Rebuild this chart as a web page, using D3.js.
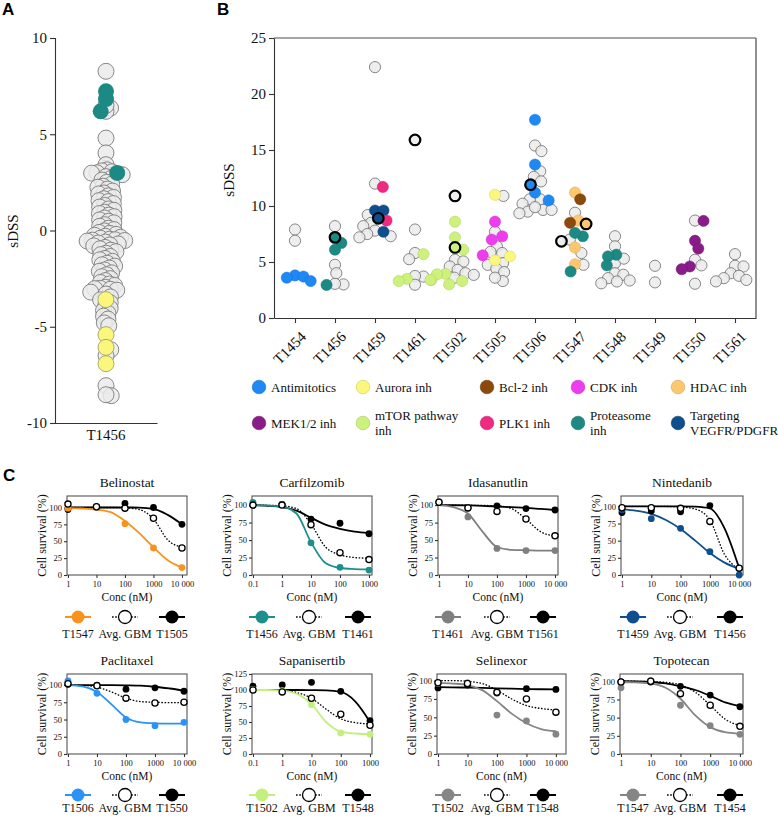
<!DOCTYPE html>
<html><head><meta charset="utf-8">
<script src="https://cdn.jsdelivr.net/npm/d3@7"></script>
<style>
body{margin:0;background:#fff}
</style>
</head><body><svg id="c" width="778" height="819" xmlns="http://www.w3.org/2000/svg"></svg>
<script>
// ---------------- Panel A data (sDSS, sample T1456) ----------------
const panelASample = "T1456";
const panelAGrey = [8.27, 6.36, 4.8, 4.03, 3.42, 6.19, 6.5, -8.06, -8.58, -8.53,
  3.15, 3.1, 3.05, 3.0, 2.98, 2.9, 2.8, 2.7, 2.62, 2.5, 2.4, 2.3, 2.25, 2.15, 2.05, 1.95, 1.9, 1.8, 1.72,
  1.65, 1.55, 1.5, 1.4, 1.3, 1.22, 1.12, 1.05, 0.95, 0.88, 0.8, 0.72, 0.65, 0.55, 0.48, 0.4, 0.3,
  0.22, 0.12, 0.05, -0.02, -0.1, -0.15, -0.2, -0.25, -0.3, -0.35, -0.4, -0.45, -0.48, -0.5, -0.52,
  -0.55, -0.6, -0.65, -0.7, -0.75, -0.8, -0.88, -0.95, -1.02, -1.1, -1.18, -1.25, -1.35, -1.45,
  -1.52, -1.6, -1.7, -1.78, -1.85, -1.95, -2.05, -2.12, -2.2, -2.3, -2.4, -2.5, -2.6, -2.7, -2.78,
  -2.85, -2.95, -3.0, -3.02, -3.05, -3.1, -3.2, -3.3, -3.45, -3.6, -3.75, -3.9, -4.05, -4.15, -4.3,
  -4.45, -4.6, -4.8, -4.95, -6.19, -6.5];
const panelAProteasome = [6.83, 7.23, 6.19, 2.99];
const panelAAurora = [-3.59, -5.41, -6.07, -6.92];
const panelATicks = [-10, -5, 0, 5, 10];

// ---------------- Panel B data ----------------
const panelBSamples = ["T1454","T1456","T1459","T1461","T1502","T1505","T1506","T1547","T1548","T1549","T1550","T1561"];
const panelBTicks = [0, 5, 10, 15, 20, 25];
const classKeys = ["anti","aurora","bcl2","cdk","hdac","mek","mtor","plk1","prot","vegfr"];
const classNames = ["Antimitotics","Aurora inh","Bcl-2 inh","CDK inh","HDAC inh","MEK1/2 inh","mTOR pathway|inh","PLK1 inh","Proteasome|inh","Targeting|VEGFR/PDGFR"];
const classColors = ["#1e88f5","#fbf77c","#8b4a0c","#ef3cef","#fdc76e","#8a1c8a","#cdf27c","#ef2a80","#1d8985","#0f4e8c"];
// [sample, sDSS, class ("none" = other drugs), highlighted]
const panelBPoints = [
  ["T1454",7.9,"none",0],["T1454",6.9,"none",0],["T1454",3.8,"anti",0],["T1454",3.7,"anti",0],["T1454",3.3,"anti",0],["T1454",3.6,"anti",0],
  ["T1456",8.2,"none",0],["T1456",7.2,"prot",1],["T1456",6.7,"prot",0],["T1456",6.1,"prot",0],["T1456",4.75,"none",0],["T1456",4.0,"none",0],["T1456",3.0,"none",0],["T1456",2.95,"prot",0],["T1456",3.05,"none",0],
  ["T1459",22.4,"none",0],["T1459",12.0,"none",0],["T1459",11.7,"plk1",0],["T1459",9.6,"vegfr",0],["T1459",9.6,"vegfr",0],["T1459",8.9,"vegfr",1],["T1459",8.7,"plk1",0],["T1459",7.7,"vegfr",0],["T1459",9.2,"none",0],["T1459",8.5,"none",0],["T1459",8.2,"none",0],["T1459",7.8,"none",0],["T1459",7.5,"none",0],["T1459",7.3,"none",0],["T1459",7.2,"none",0],
  ["T1461",15.9,"none",1],["T1461",7.9,"none",0],["T1461",5.7,"mtor",0],["T1461",5.8,"none",0],["T1461",5.25,"none",0],["T1461",3.4,"mtor",0],["T1461",3.5,"mtor",0],["T1461",3.7,"none",0],["T1461",3.75,"none",0],["T1461",2.97,"none",0],["T1461",3.3,"mtor",0],
  ["T1502",10.9,"none",1],["T1502",8.6,"mtor",0],["T1502",6.3,"mtor",1],["T1502",7.2,"mtor",0],["T1502",6.1,"mtor",0],["T1502",3.95,"mtor",0],["T1502",3.9,"mtor",0],["T1502",3.4,"mtor",0],["T1502",3.3,"mtor",0],["T1502",3.0,"mtor",0],["T1502",5.2,"none",0],["T1502",5.05,"none",0],["T1502",4.6,"none",0],["T1502",4.3,"none",0],["T1502",4.0,"none",0],["T1502",3.85,"none",0],["T1502",3.6,"none",0],
  ["T1505",11.0,"aurora",0],["T1505",10.9,"none",0],["T1505",8.6,"cdk",0],["T1505",7.7,"none",0],["T1505",7.3,"cdk",0],["T1505",7.0,"cdk",0],["T1505",6.4,"none",0],["T1505",5.8,"none",0],["T1505",5.9,"none",0],["T1505",5.5,"aurora",0],["T1505",5.15,"aurora",0],["T1505",4.75,"none",0],["T1505",4.9,"none",0],["T1505",4.4,"none",0],["T1505",4.1,"none",0],["T1505",3.3,"none",0],["T1505",3.6,"none",0],["T1505",5.6,"cdk",0],
  ["T1506",17.7,"anti",0],["T1506",15.4,"none",0],["T1506",14.9,"none",0],["T1506",13.7,"anti",0],["T1506",13.1,"none",0],["T1506",12.6,"none",0],["T1506",12.2,"none",0],["T1506",11.9,"anti",1],["T1506",11.2,"anti",0],["T1506",10.5,"anti",0],["T1506",10.6,"none",0],["T1506",10.6,"none",0],["T1506",10.2,"none",0],["T1506",9.65,"none",0],["T1506",9.5,"none",0],["T1506",9.35,"none",0],["T1506",9.65,"none",0],["T1506",9.9,"none",0],
  ["T1547",11.2,"hdac",0],["T1547",10.6,"bcl2",0],["T1547",9.4,"none",0],["T1547",8.7,"hdac",0],["T1547",8.5,"bcl2",0],["T1547",8.4,"hdac",1],["T1547",7.3,"prot",0],["T1547",6.85,"none",1],["T1547",6.3,"hdac",0],["T1547",5.8,"none",0],["T1547",4.75,"none",0],["T1547",4.8,"hdac",0],["T1547",4.15,"prot",0],["T1547",7.0,"none",0],["T1547",7.6,"prot",0],
  ["T1548",7.3,"none",0],["T1548",6.4,"none",0],["T1548",5.65,"prot",0],["T1548",5.5,"prot",0],["T1548",4.7,"prot",0],["T1548",4.9,"none",0],["T1548",4.0,"none",0],["T1548",3.86,"none",0],["T1548",3.56,"none",0],["T1548",3.35,"none",0],["T1548",3.26,"none",0],["T1548",3.1,"none",0],["T1548",5.3,"none",0],
  ["T1549",4.66,"none",0],["T1549",3.18,"none",0],
  ["T1550",8.7,"none",0],["T1550",8.67,"mek",0],["T1550",6.9,"mek",0],["T1550",6.2,"mek",0],["T1550",5.2,"none",0],["T1550",4.7,"none",0],["T1550",4.6,"mek",0],["T1550",4.36,"mek",0],["T1550",3.06,"none",0],
  ["T1561",5.7,"none",0],["T1561",4.66,"none",0],["T1561",4.6,"none",0],["T1561",4.0,"none",0],["T1561",3.77,"none",0],["T1561",3.56,"none",0],["T1561",3.4,"none",0],["T1561",3.27,"none",0]
];

// ---------------- Panel C data ----------------
const cTitles = ["Belinostat","Carfilzomib","Idasanutlin","Nintedanib","Paclitaxel","Sapanisertib","Selinexor","Topotecan"];
const cSampleLabels = ["T1547","T1456","T1461","T1459","T1506","T1502","T1502","T1547"];
const cRefLabels = ["T1505","T1461","T1561","T1456","T1550","T1548","T1548","T1454"];
const cSampleColors = ["#f7931e","#1e8f8c","#7f7f7f","#0f4e8f","#2a93f5","#c4ef7e","#858585","#858585"];
const cConc = [[1,10,100,1000,10000],[0.1,1,10,100,1000],[1,10,100,1000,10000],[1,10,100,1000,10000],
               [1,10,100,1000,10000],[0.1,1,10,100,1000],[1,10,100,1000,10000],[1,10,100,1000,10000]];
const cYTicks = [[0,25,50,75,100],[0,25,50,75,100],[0,25,50,75,100],[0,25,50,75,100],
                 [0,25,50,75,100],[0,25,50,75,100,125],[0,25,50,75,100],[0,25,50,75,100]];
const cYMax = [117, 113, 113, 115, 116, 125, 109, 110];
// measured cell survival (%) at each concentration: [sample, avg GBM, reference]
const cPoints = [
  [[99,101,76,40,11],[105,101,99,84,40],[97,101,106,100,75]],
  [[104,101,46,11,7],[100,100,72,32,22],[100,101,80,74,59]],
  [[105,83,38,35,35],[104,96,91,80,56],[104,96,99,95,93]],
  [[95,82,68,34,0],[98,98,97,78,10],[91,93,92,101,10]],
  [[106,88,50,41,46],[102,99,81,74,75],[101,100,94,96,91]],
  [[101,99,77,33,31],[100,97,87,62,45],[106,108,112,98,52]],
  [[96,97,53,45,27],[97,96,84,75,57],[90,94,83,89,88]],
  [[91,101,67,39,27],[99,100,83,67,38],[99,99,93,81,65]]
];
// fitted curves read at half-decade steps from the lowest concentration
const cCurves = [
  [[99,98.5,97,93,80,62,41,22,11],[100,100,100,100,99.5,97,83,52,41],[100,100,100,100,100,99.8,98,89,75]],
  [[100,99.5,98,88,47,17,10,8.5,8],[100,99.7,99,95,73,40,29,25,24],[100,99,97,92,82,72,66,62,60]],
  [[100,97,88,62,40,36,35.5,35,35],[100,100,99.8,99.5,99,95,80,62,56],[100,99.8,99.5,99,98,97,96,94.5,93]],
  [[96,93.5,89,80,67,50,32,18,9],[100,100,100,99.8,99,96,80,30,8],[100,100,100,100,100,99.5,97,68,10]],
  [[100,98,90,72,53,46,44.5,44,44],[100,99.5,97,90,81,76,75,74.5,74.5],[100,100,100,99.8,99.5,99,97.5,95,92]],
  [[100,100,99,94,78,50,35,32,31],[100,99.8,99,96,87,70,55,49,47],[100,100,100,100,99.8,99.5,97,82,50]],
  [[97,96,94,87,72,55,42,34,31],[100,100,99,96,87,75,66,62,60],[91,90.8,90.5,90,89.5,89,88.5,88.2,88]],
  [[99,98.5,97,91,76,53,37,30,28],[100,100,99.5,98.5,95,85,67,48,39],[100,99.8,99,97,93,88,80,71,66]]
];

// ================= drawing =================
const SERIF = '"Liberation Serif", "Times New Roman", Times, "DejaVu Serif", serif';
const SANS = '"Liberation Sans", Arial, Helvetica, sans-serif';
const svg = d3.select("#c");
const greyFill = "#ebebeb", greyStroke = "#7a7a7a";

function swarm(items, d) {
  const sorted = items.slice().sort((a, b) => a.py - b.py);
  const placed = [];
  for (const it of sorted) {
    const cands = [0];
    for (const p of placed) {
      const dy = Math.abs(p.py - it.py);
      if (dy < d) { const dx = Math.sqrt(d * d - dy * dy); cands.push(p.dx + dx + 0.01, p.dx - dx - 0.01); }
    }
    cands.sort((a, b) => Math.abs(a) - Math.abs(b));
    for (const c of cands) {
      if (placed.every(p => (p.dx - c) ** 2 + (p.py - it.py) ** 2 >= d * d - 0.05)) { it.dx = c; break; }
    }
    placed.push(it);
  }
}
function styleAxis(g, fs) {
  g.attr("font-family", null);
  g.selectAll("path,line").attr("stroke", "#333").attr("stroke-width", 1.1);
  g.selectAll("text").attr("font-size", fs).attr("fill", "#111");
}
function letter(t, x, y) {
  svg.append("text").attr("class", "lett").attr("x", x).attr("y", y).text(t)
    .style("font-family", SANS).style("font-weight", "bold").style("font-size", "17px");
}

// ---------- Panel A ----------
letter("A", 2, 15);
const ay = d3.scaleLinear().domain([-10, 10]).range([423, 38]);
const ax = d3.scaleBand().domain([panelASample]).range([55, 157]);
const gAy = svg.append("g").attr("transform", "translate(55,0)")
  .call(d3.axisLeft(ay).tickValues(panelATicks).tickSize(5).tickPadding(3).tickFormat(d => String(d)));
styleAxis(gAy, 15);
const gAx = svg.append("g").attr("transform", "translate(0,423)")
  .call(d3.axisBottom(ax).tickSize(0).tickPadding(6));
styleAxis(gAx, 15);
svg.append("text").attr("transform", "translate(18,231) rotate(-90)").attr("text-anchor", "middle")
  .attr("font-size", 15).text("sDSS");
const aItems = [];
panelAGrey.forEach(v => aItems.push({v, c: "none"}));
panelAProteasome.forEach(v => aItems.push({v, c: "prot"}));
panelAAurora.forEach(v => aItems.push({v, c: "aurora"}));
aItems.forEach(d => d.py = ay(d.v));
swarm(aItems, 5.3);
const aOrder = aItems.slice().sort((a, b) => (a.c === "none" ? 0 : 1) - (b.c === "none" ? 0 : 1));
svg.append("g").selectAll("circle").data(aOrder).join("circle")
  .attr("cx", d => ax(panelASample) + ax.bandwidth() / 2 + d.dx)
  .attr("cy", d => d.py).attr("r", 8)
  .attr("fill", d => d.c === "none" ? greyFill : classColors[classKeys.indexOf(d.c)])
  .attr("fill-opacity", d => d.c === "none" ? 0.85 : 1)
  .attr("stroke", d => d.c === "none" ? greyStroke : (d.c === "aurora" ? "#a0a070" : "none"))
  .attr("stroke-width", 0.9);

// ---------- Panel B ----------
letter("B", 217, 15);
const bx = d3.scalePoint().domain(panelBSamples).range([274, 756]).padding(0.525);
const by = d3.scaleLinear().domain([0, 25]).range([318, 38]);
svg.append("line").attr("x1", 274).attr("x2", 756).attr("y1", 38).attr("y2", 38).attr("stroke", "#888").attr("stroke-width", 1.3);
svg.append("line").attr("x1", 756).attr("x2", 756).attr("y1", 38).attr("y2", 318).attr("stroke", "#555").attr("stroke-width", 1.3);
const gBy = svg.append("g").attr("transform", "translate(274,0)")
  .call(d3.axisLeft(by).tickValues(panelBTicks).tickSize(5).tickPadding(3).tickSizeOuter(0));
styleAxis(gBy, 15);
const gBx = svg.append("g").attr("transform", "translate(0,318)")
  .call(d3.axisBottom(bx).tickSize(5).tickSizeOuter(0));
styleAxis(gBx, 15);
gBx.selectAll("text").attr("text-anchor", "end").attr("dy", 0)
  .attr("transform", "translate(6,14) rotate(-45)");
svg.append("text").attr("transform", "translate(234,180) rotate(-90)").attr("text-anchor", "middle")
  .attr("font-size", 15).text("sDSS");
const bItems = panelBPoints.map(p => ({s: p[0], v: p[1], c: p[2], h: p[3]}));
bItems.forEach(d => d.py = by(d.v));
panelBSamples.forEach(s => swarm(bItems.filter(d => d.s === s), 8.5));
const rank = d => d.h ? 2 : (d.c === "none" ? 0 : 1);
const bOrder = bItems.slice().sort((a, b) => rank(a) - rank(b));
svg.append("g").selectAll("circle").data(bOrder).join("circle")
  .attr("cx", d => bx(d.s) + d.dx).attr("cy", d => d.py).attr("r", d => d.h ? 5.3 : 5.6)
  .attr("fill", d => d.c === "none" ? greyFill : classColors[classKeys.indexOf(d.c)])
  .attr("fill-opacity", d => d.c === "none" ? 0.85 : 1)
  .attr("stroke", d => d.h ? "#000" : (d.c === "none" ? greyStroke : d3.color(classColors[classKeys.indexOf(d.c)]).darker(0.5)))
  .attr("stroke-width", d => d.h ? 2.2 : (d.c === "none" ? 0.9 : 0.5));

// legend B
const legColX = [259, 363, 487, 578, 678];
const legRowY = [387, 423];
classKeys.forEach((k, i) => {
  const cx = legColX[i % 5], cy = legRowY[Math.floor(i / 5)];
  const g = svg.append("g");
  g.append("circle").attr("cx", cx).attr("cy", cy).attr("r", 6.8).attr("fill", classColors[i])
    .attr("stroke", d3.color(classColors[i]).darker(0.6)).attr("stroke-width", 0.6);
  const lines = classNames[i].split("|");
  lines.forEach((t, j) => {
    g.append("text").attr("x", cx + 12).attr("y", cy + 4.5 + (lines.length === 1 ? 0 : (j - 0.5) * 15))
      .attr("font-size", 13).text(t);
  });
});

// ---------- Panel C ----------
letter("C", 3, 481);
const cFrameX = [[67,187],[252,372],[438,558],[621,743],[67,187],[252,372],[437,566],[620,743]];
const cFrameY = [[496,575],[674,754]];
const cPadR = [1.5,1.27,1.27,1.35,1.27,1.17,2.2,1.27];
const cLegendX = [[78,125,172],[262,309,358],[448,497,543],[633,680,730]];
const cLegendY = [617, 795];
const cLabelDY = [21, 17];
const fmtConc = d => d === 10000 ? "10 000" : String(d);

cTitles.forEach((title, i) => {
  const row = i < 4 ? 0 : 1, col = i % 4;
  const [x0, x1] = cFrameX[i], [y0, y1] = cFrameY[row];
  const conc = cConc[i];
  const xs = d3.scaleLog().domain([conc[0] / 1.08, conc[conc.length - 1] * cPadR[i]]).range([x0, x1]);
  const ys = d3.scaleLinear().domain([0, cYMax[i]]).range([y1, y0]);
  const g = svg.append("g");
  g.append("text").attr("x", (x0 + x1) / 2).attr("y", y0 - 9).attr("text-anchor", "middle")
    .attr("font-size", 13.5).text(title);
  g.append("rect").attr("x", x0).attr("y", y0).attr("width", x1 - x0).attr("height", y1 - y0)
    .attr("fill", "none").attr("stroke", "#555").attr("stroke-width", 1.1);
  const gy = g.append("g").attr("transform", `translate(${x0},0)`)
    .call(d3.axisLeft(ys).tickValues(cYTicks[i]).tickSize(3).tickPadding(2).tickSizeOuter(0));
  styleAxis(gy, 8.5); gy.select("path").remove();
  const gx = g.append("g").attr("transform", `translate(0,${y1})`)
    .call(d3.axisBottom(xs).tickValues(conc).tickFormat(fmtConc).tickSize(3).tickPadding(3).tickSizeOuter(0));
  styleAxis(gx, 8.5); gx.select("path").remove();
  g.append("text").attr("transform", `translate(${x0 - 21},${(y0 + y1) / 2}) rotate(-90)`)
    .attr("text-anchor", "middle").attr("font-size", 12).text("Cell survival (%)");
  g.append("text").attr("x", (x0 + x1) / 2).attr("y", y1 + 26).attr("text-anchor", "middle")
    .attr("font-size", 11.5).text("Conc (nM)");

  const curveX = d3.range(9).map(k => conc[0] * Math.pow(10, k * 0.5));
  const line = d3.line().x(d => xs(d[0])).y(d => ys(d[1])).curve(d3.curveMonotoneX);
  const styles = [
    {stroke: cSampleColors[i], w: 1.8, dash: null},
    {stroke: "#000", w: 1.3, dash: "1.6,1.6"},
    {stroke: "#000", w: 1.8, dash: null}
  ];
  [1, 2, 0].forEach(s => {
    const pts = curveX.map((x, k) => [x, cCurves[i][s][k]]);
    g.append("path").attr("d", line(pts)).attr("fill", "none").attr("stroke", styles[s].stroke)
      .attr("stroke-width", styles[s].w).attr("stroke-dasharray", styles[s].dash);
  });
  [2, 0, 1].forEach(s => {
    g.append("g").selectAll("circle").data(conc.map((c, k) => [c, cPoints[i][s][k]])).join("circle")
      .attr("cx", d => xs(d[0])).attr("cy", d => ys(d[1])).attr("r", s === 1 ? 3.1 : 3.4)
      .attr("fill", s === 0 ? cSampleColors[i] : (s === 1 ? "#fff" : "#000"))
      .attr("stroke", s === 1 ? "#000" : "none").attr("stroke-width", 1.3);
  });

  // legend
  const labels = [cSampleLabels[i], "Avg. GBM", cRefLabels[i]];
  labels.forEach((lab, s) => {
    const lx = cLegendX[col][s], ly = cLegendY[row];
    g.append("line").attr("x1", lx - 13).attr("x2", lx + 13).attr("y1", ly).attr("y2", ly)
      .attr("stroke", styles[s].stroke).attr("stroke-width", s === 1 ? 1.3 : 2)
      .attr("stroke-dasharray", styles[s].dash);
    g.append("circle").attr("cx", lx).attr("cy", ly).attr("r", 6.5)
      .attr("fill", s === 0 ? cSampleColors[i] : (s === 1 ? "#fff" : "#000"))
      .attr("stroke", s === 1 ? "#000" : "none").attr("stroke-width", 1.3);
    g.append("text").attr("x", lx).attr("y", ly + cLabelDY[row]).attr("text-anchor", "middle")
      .attr("font-size", 12).text(lab);
  });
});

// serif font for all non-letter texts
svg.selectAll("text").filter(function () { return this.getAttribute("class") !== "lett"; })
  .style("font-family", SERIF).style("fill", "#111");
</script>
</body></html>
